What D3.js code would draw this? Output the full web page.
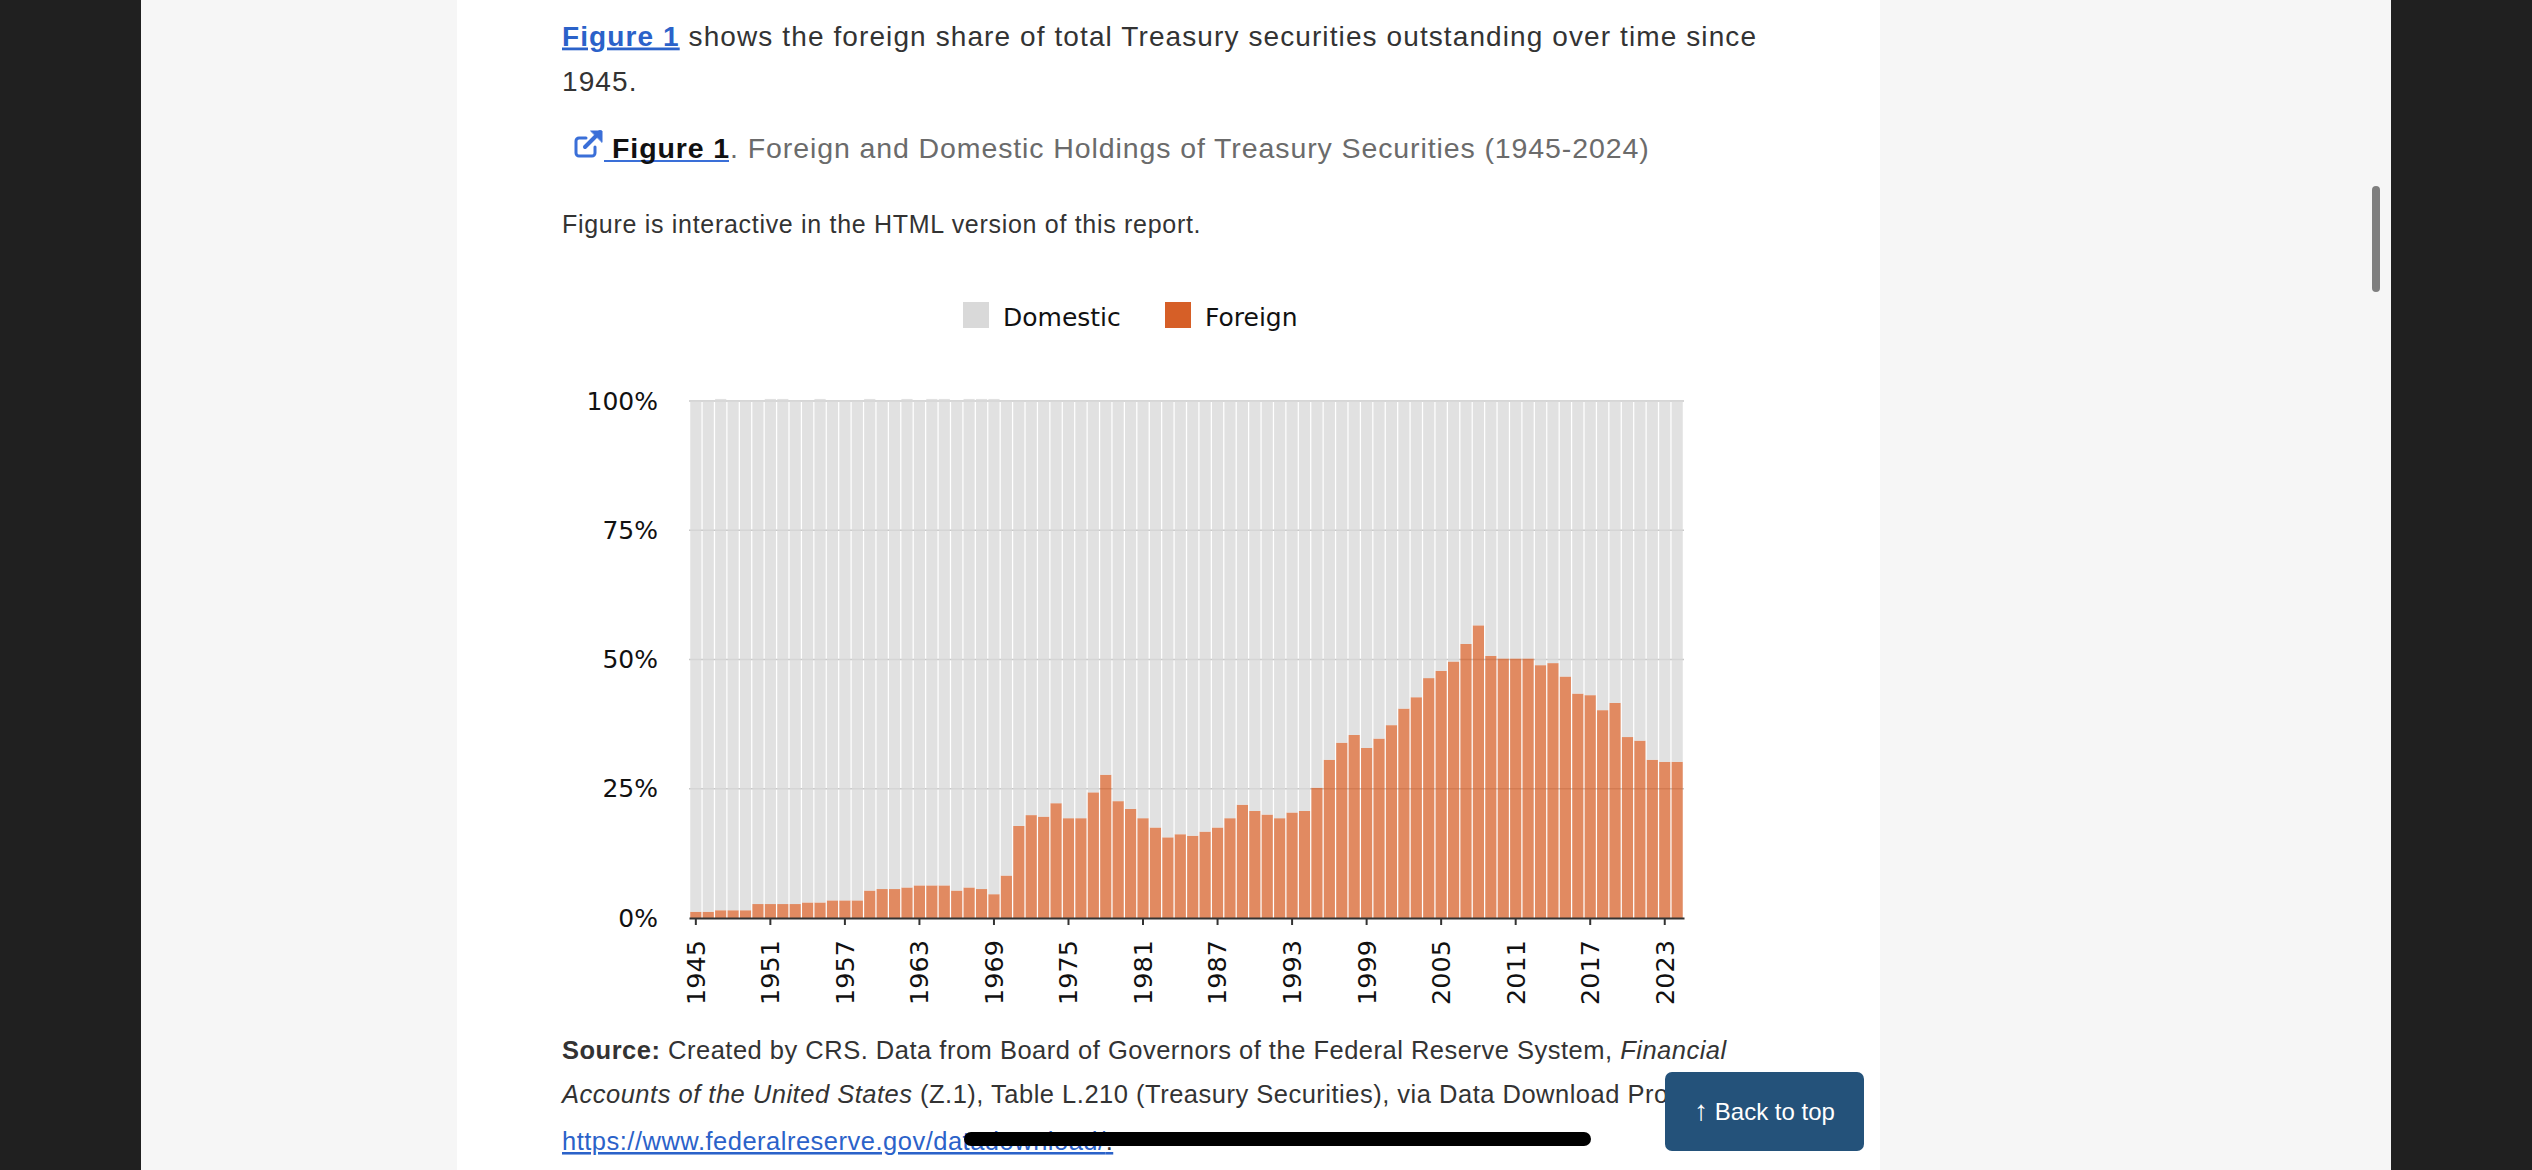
<!DOCTYPE html>
<html>
<head>
<meta charset="utf-8">
<script src="https://cdn.jsdelivr.net/npm/d3@7"></script>
<style>
  html, body { margin: 0; padding: 0; background: #202020; }
  svg { display: block; }
</style>
</head>
<body>
<script>
// Foreign vs domestic share of Treasury securities, 1945-2024
const years = d3.range(1945, 2025);

const foreignShare = [
  1.2, 1.2, 1.5, 1.5, 1.5, 2.7, 2.7, 2.7, 2.7, 3.0,
  3.0, 3.4, 3.4, 3.4, 5.3, 5.6, 5.6, 5.9, 6.3, 6.3,
  6.3, 5.3, 5.9, 5.6, 4.6, 8.2, 17.8, 19.9, 19.6, 22.2,
  19.3, 19.3, 24.3, 27.7, 22.6, 21.1, 19.3, 17.5, 15.6, 16.2,
  15.9, 16.7, 17.5, 19.3, 21.9, 20.7, 20.0, 19.3, 20.4, 20.7,
  25.2, 30.6, 33.9, 35.4, 32.9, 34.7, 37.3, 40.5, 42.7, 46.4,
  47.8, 49.6, 53.0, 56.6, 50.7, 50.2, 50.2, 50.2, 48.9, 49.3,
  46.7, 43.4, 43.1, 40.2, 41.6, 35.0, 34.3, 30.6, 30.2, 30.2
];

const domesticShare = [
  98.8, 98.8, 98.9, 98.5, 98.5, 97.3, 97.7, 97.7, 97.3, 97.0,
  97.4, 96.6, 96.6, 96.6, 95.1, 94.4, 94.4, 94.5, 93.7, 94.1,
  94.1, 94.7, 94.5, 94.8, 95.8, 91.8, 82.2, 80.1, 80.4, 77.8,
  80.7, 80.7, 75.7, 72.3, 77.4, 78.9, 80.7, 82.5, 84.4, 83.8,
  84.1, 83.3, 82.5, 80.7, 78.1, 79.3, 80.0, 80.7, 79.6, 79.3,
  74.8, 69.4, 66.1, 64.6, 67.1, 65.3, 62.7, 59.5, 57.3, 53.6,
  52.2, 50.4, 47.0, 43.4, 49.3, 49.8, 49.8, 49.8, 51.1, 50.7,
  53.3, 56.6, 56.9, 59.8, 58.4, 65.0, 65.7, 69.4, 69.8, 69.8
];

const seriesKeys = ["foreign", "domestic"];
const legendItems = [
  { key: "domestic", label: "Domestic" },
  { key: "foreign", label: "Foreign" }
];
const yTicks = [0, 25, 50, 75, 100];
const xTickYears = years.filter((y) => (y - 1945) % 6 === 0);

const W = 2532, H = 1170;
const colors = { domestic: "#d9d9d9", foreign: "#d65f27" };

const rows = years.map((year, i) => ({
  year,
  foreign: foreignShare[i],
  domestic: domesticShare[i]
}));

const svg = d3.select("body").append("svg")
  .attr("width", W).attr("height", H)
  .attr("viewBox", [0, 0, W, H]);

// page chrome: dark bezel, light gutters, white column
svg.append("rect").attr("width", W).attr("height", H).attr("fill", "#202020");
svg.append("rect").attr("x", 141).attr("y", 0).attr("width", 2391 - 141).attr("height", H).attr("fill", "#f6f6f6");
svg.append("rect").attr("x", 457).attr("y", 0).attr("width", 1880 - 457).attr("height", H).attr("fill", "#fff");
svg.append("rect").attr("x", 2372).attr("y", 186).attr("width", 8).attr("height", 106).attr("rx", 4).attr("fill", "#7f7f7f");

const bodyFont = "'Liberation Sans', Arial, sans-serif";
const chartFont = "'DejaVu Sans', Verdana, sans-serif";

// intro paragraph
const para = svg.append("g").style("font-family", bodyFont).style("font-size", "28px")
  .style("letter-spacing", "1.1px").attr("fill", "#333");
const p1 = para.append("text").attr("x", 562).attr("y", 45.5);
p1.append("tspan").attr("fill", "#2b62c9").style("font-weight", "bold")
  .style("text-decoration", "underline").text("Figure 1");
p1.append("tspan").text(" shows the foreign share of total Treasury securities outstanding over time since");
para.append("text").attr("x", 562).attr("y", 91).text("1945.");

// caption with external-link icon
const icon = svg.append("g").attr("transform", "translate(575,133)")
  .attr("fill", "none").attr("stroke", "#3a6fd8").attr("stroke-width", 3).attr("stroke-linecap", "round");
icon.append("path").attr("d", "M11,5 H4 a3,3 0 0 0 -3,3 V20 a3,3 0 0 0 3,3 H17 a3,3 0 0 0 3,-3 V14");
icon.append("path").attr("d", "M10,14 L25,-1").attr("stroke-width", 4);
icon.append("path").attr("d", "M16,-2 H27 V9 Z").attr("fill", "#3a6fd8").attr("stroke-width", 1);
svg.append("line").attr("x1", 604).attr("x2", 729).attr("y1", 161).attr("y2", 161)
  .attr("stroke", "#3a6fd8").attr("stroke-width", 2);
const cap = svg.append("text").attr("x", 612).attr("y", 157.5)
  .style("font-family", bodyFont).style("font-size", "28.5px").style("letter-spacing", "0.9px")
  .attr("fill", "#6b6b6b");
cap.append("tspan").attr("fill", "#111").style("font-weight", "bold").text("Figure 1");
cap.append("tspan").text(". Foreign and Domestic Holdings of Treasury Securities (1945-2024)");

svg.append("text").attr("x", 562).attr("y", 233)
  .style("font-family", bodyFont).style("font-size", "25px").style("letter-spacing", "0.7px")
  .attr("fill", "#333")
  .text("Figure is interactive in the HTML version of this report.");

// legend
const legend = svg.append("g").style("font-family", chartFont).style("font-size", "25px");
const legendX = { domestic: 963, foreign: 1165 };
legendItems.forEach((d) => {
  const g = legend.append("g").attr("transform", `translate(${legendX[d.key]},302)`);
  g.append("rect").attr("width", 26).attr("height", 26).attr("fill", colors[d.key]);
  g.append("text").attr("x", 40).attr("y", 24).attr("fill", "#111").text(d.label);
});

// chart
const x = d3.scaleBand().domain(years).range([689, 1684]).paddingInner(0.1).paddingOuter(0.1);
const y = d3.scaleLinear().domain([0, 100]).range([918, 401]);

const chart = svg.append("g").style("font-family", chartFont);

chart.append("g").selectAll("line").data(yTicks.filter((t) => t > 0)).join("line")
  .attr("x1", 689).attr("x2", 1684)
  .attr("y1", (d) => y(d)).attr("y2", (d) => y(d))
  .attr("stroke", "#c8c8c8").attr("stroke-width", 1.5);

const stacked = d3.stack().keys(seriesKeys)(rows);

chart.append("g").selectAll("g").data(stacked).join("g")
  .attr("fill", (s) => colors[s.key])
  .attr("fill-opacity", (s) => (s.key === "foreign" ? 0.73 : 0.78))
  .selectAll("rect").data((s) => s).join("rect")
  .attr("x", (d) => x(d.data.year))
  .attr("width", x.bandwidth())
  .attr("y", (d) => y(d[1]))
  .attr("height", (d) => y(d[0]) - y(d[1]));

const yAxis = chart.append("g").attr("transform", "translate(689,0)")
  .call(d3.axisLeft(y).tickValues(yTicks).tickFormat((d) => d + "%").tickSize(0).tickPadding(31));
yAxis.select(".domain").remove();
yAxis.selectAll("text").style("font-size", "25px").style("font-family", chartFont).attr("fill", "#111");

const xAxis = chart.append("g").attr("transform", "translate(0,918)")
  .call(d3.axisBottom(x).tickValues(xTickYears).tickSize(7).tickSizeOuter(0));
xAxis.select(".domain").attr("stroke", "#333").attr("stroke-width", 2);
xAxis.selectAll(".tick line").attr("stroke", "#333").attr("stroke-width", 2);
xAxis.selectAll("text")
  .attr("transform", "rotate(-90)")
  .attr("text-anchor", "end")
  .attr("x", -22).attr("y", 0).attr("dy", "0.35em")
  .style("font-size", "25.5px").style("font-family", chartFont).attr("fill", "#111");

// source note; the second line runs up to the floating button, as on the page
svg.append("clipPath").attr("id", "src-clip")
  .append("rect").attr("x", 457).attr("y", 1075).attr("width", 1665 - 457).attr("height", 40);
const src = svg.append("g")
  .style("font-family", bodyFont).style("font-size", "25.5px")
  .style("letter-spacing", "0.5px").attr("fill", "#333");
const s1 = src.append("text").attr("x", 562).attr("y", 1058.5);
s1.append("tspan").style("font-weight", "bold").text("Source:");
s1.append("tspan").text(" Created by CRS. Data from Board of Governors of the Federal Reserve System, ");
s1.append("tspan").style("font-style", "italic").text("Financial");
const s2 = src.append("text").attr("x", 562).attr("y", 1103).attr("clip-path", "url(#src-clip)");
s2.append("tspan").style("font-style", "italic").text("Accounts of the United States");
s2.append("tspan").text(" (Z.1), Table L.210 (Treasury Securities), via Data Download Pro");
src.append("text").attr("x", 562).attr("y", 1150).attr("fill", "#2b62c9")
  .style("text-decoration", "underline").text("https://www.federalreserve.gov/datadownload/")
  .append("tspan").attr("fill", "#333").style("text-decoration", "none").text(".");

// back-to-top button
const btn = svg.append("g").attr("transform", "translate(1665,1072)");
btn.append("rect").attr("width", 199).attr("height", 79).attr("rx", 7).attr("fill", "#24527a");
const btnText = btn.append("text").attr("x", 99.5).attr("y", 48).attr("text-anchor", "middle")
  .style("font-family", bodyFont).style("font-size", "24px").attr("fill", "#fff");
btnText.append("tspan").style("font-weight", "bold").style("font-size", "28px").text("\u2191");
btnText.append("tspan").text(" Back to top");

// home indicator
svg.append("rect").attr("x", 964).attr("y", 1132).attr("width", 627).attr("height", 14).attr("rx", 7).attr("fill", "#000");
</script>
</body>
</html>
